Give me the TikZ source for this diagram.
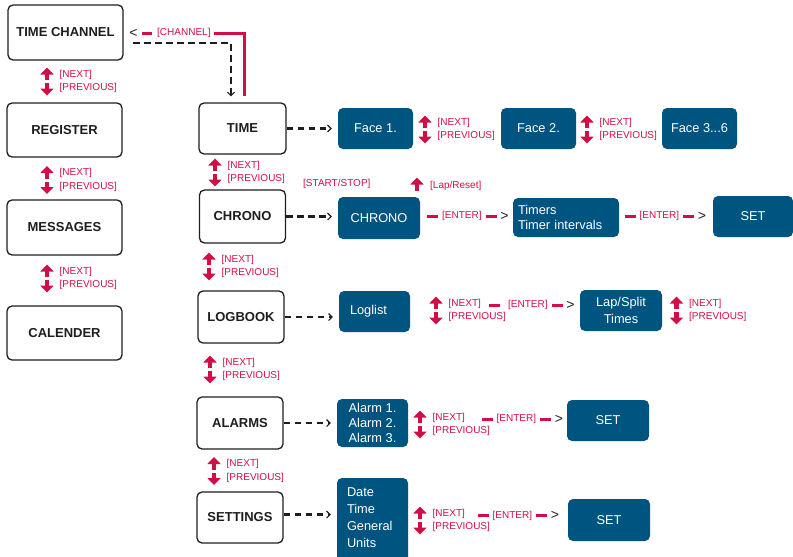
\documentclass[tikz,border=0pt]{standalone}
\usepackage{fontspec}
\setmainfont{Liberation Sans}
\usetikzlibrary{arrows.meta}
\definecolor{navred}{RGB}{210,14,70}
\definecolor{boxblue}{RGB}{0,84,128}
\definecolor{ink}{RGB}{30,30,30}
\newcommand\navpair[3]{%
  \draw[navarrow] (#2,#3-1.5) -- (#2,#3-14);
  \draw[navarrow] (#2,#3+1.5) -- (#2,#3+14);
  \node[lbl] (#1n) at (#2+12.5,#3-7) {[NEXT]};
  \node[lbl] (#1p) at (#2+12.5,#3+6.5) {[PREVIOUS]};}
\newcommand\enterrow[4]{%
  \draw[reddash] (#2,#4) -- ++(11,0);
  \node[lbl] (#1l) at (#3,#4) {[ENTER]};
  \draw[reddash] ([xshift=4pt]#1l.east) -- ++(11,0) coordinate (#1b);
  \node[gt] (#1g) at ([xshift=7.5pt]#1b) {>};}
\begin{document}
\begin{tikzpicture}[x=1pt,y=-1pt,
  wbox/.style={draw=ink, line width=1.3pt, rounded corners=5pt, fill=white, text=ink,
    font=\fontsize{13}{15}\selectfont\bfseries, inner sep=0pt},
  bbox/.style={fill=boxblue, rounded corners=5pt, text=white,
    font=\fontsize{12.8}{15}\selectfont, inner sep=0pt},
  lbl/.style={text=navred, font=\fontsize{10}{12}\selectfont, anchor=west, inner sep=0pt},
  navarrow/.style={draw=navred, line width=4.5pt, -{Triangle[width=13pt,length=7pt]}},
  dasharr/.style={draw=ink, line width=2.8pt, dash pattern=on 6.5pt off 4.5pt,
    -{Straight Barb[line width=1.1pt,length=3.5pt,width=7pt]}, shorten >=6pt},
  reddash/.style={draw=navred, line width=3pt},
  gt/.style={text=ink, font=\fontsize{14}{14}\selectfont, inner sep=0pt}]
\useasboundingbox (0,0) rectangle (793,557);

% left column
\node[wbox,minimum width=115pt,minimum height=55pt] (tc) at (65.5,32.5) {TIME CHANNEL};
\node[wbox,minimum width=115pt,minimum height=54pt] (reg) at (64.5,130) {REGISTER};
\node[wbox,minimum width=115pt,minimum height=55pt] (msg) at (64.5,227.5) {MESSAGES};
\node[wbox,minimum width=115pt,minimum height=54pt] (cal) at (64.5,333) {CALENDER};
\navpair{l1}{47}{81.5}
\navpair{l2}{47}{180}
\navpair{l3}{47}{278.5}

% middle column
\node[wbox,minimum width=87pt,minimum height=51pt] (time) at (242.5,128.5) {TIME};
\node[wbox,minimum width=86pt,minimum height=53pt] (chr) at (242.5,216.5) {CHRONO};
\node[wbox,minimum width=86pt,minimum height=52pt] (log) at (241,317) {LOGBOOK};
\node[wbox,minimum width=86pt,minimum height=52pt] (alm) at (240,423) {ALARMS};
\node[wbox,minimum width=86pt,minimum height=51pt] (set) at (240,517.5) {SETTINGS};
\navpair{m1}{215}{172.5}
\navpair{m2}{209}{266.5}
\navpair{m3}{210}{369.5}
\navpair{m4}{214}{471}

% time channel links
\node[lbl] (chn) at (157,33) {[CHANNEL]};
\coordinate (rc) at (244,33);
\draw[reddash, shorten <=6pt] (rc |- time.north) -- (rc) -- ([xshift=3pt]chn.east);
\draw[reddash] ([xshift=-5pt]chn.west) -- ++(-10,0);
\node[gt] (lt) at (133.5,33) {<};
\coordinate (bs) at (133,43);
\coordinate (bc) at (231,43);
\draw[dasharr] (bs) -- (bc) -- (bc |- time.north);

% blue boxes
\node[bbox,minimum width=75pt,minimum height=41pt] (face1) at (375.5,128.5) {Face 1.};
\node[bbox,minimum width=75pt,minimum height=41pt] (face2) at (538.5,128.5) {Face 2.};
\node[bbox,minimum width=75pt,minimum height=41pt] (face3) at (699.5,128.5) {Face 3...6};
\node[bbox,minimum width=82pt,minimum height=42pt] (chb) at (379,218) {CHRONO};
\node[bbox,minimum width=106pt,minimum height=39pt,text width=96pt,align=left] (tmr) at (566,217.5) {Timers\\Timer intervals};
\node[bbox,minimum width=80pt,minimum height=41pt] (set1) at (753,216.5) {SET};
\node[bbox,minimum width=71pt,minimum height=41pt,text width=49pt,align=left] (logl) at (374.5,311.5) {Loglist};
\node[bbox,minimum width=82pt,minimum height=41pt,align=center,font=\fontsize{12.8}{17}\selectfont] (lap) at (621,310.5) {Lap/Split\\Times};
\node[bbox,minimum width=71pt,minimum height=48pt,align=center] (almb) at (372.5,423) {Alarm 1.\\Alarm 2.\\Alarm 3.};
\node[bbox,minimum width=82pt,minimum height=41pt] (set2) at (608,420.5) {SET};
\node[bbox,minimum width=71pt,minimum height=87pt] (setb) at (372.5,521.5) {};
\node[bbox,fill=none,text width=51pt,align=left,font=\fontsize{12.8}{17}\selectfont] (setbt) at (372.5,517.5) {Date\\Time\\General\\Units};
\node[bbox,minimum width=82pt,minimum height=42pt] (set3) at (609,520) {SET};

% dashed arrows
\draw[dasharr] (time.east) -- (face1.west);
\draw[dasharr] (chr.east) -- (chr.east -| chb.west);
\draw[dasharr] (log.east) -- (log.east -| logl.west);
\draw[dasharr] (alm.east) -- (alm.east -| almb.west);
\draw[dasharr] ([yshift=3pt]set.east) -- ([yshift=3pt]set.east -| setb.west);

% right navigation
\navpair{f1}{425}{129.5}
\navpair{f2}{587}{129.5}
\navpair{g1}{436}{310.5}
\navpair{g2}{676.5}{310.5}
\navpair{a1}{420}{424.5}
\navpair{s1}{420}{520.5}

% chrono extras
\node[lbl] (ss) at (303,184) {[START/STOP]};
\draw[navarrow] (417,190.5) -- (417,177.5);
\node[lbl] (lr) at (430,185.5) {[Lap/Reset]};

% enter rows
\enterrow{e1}{427}{442}{216}
\enterrow{e2}{625}{639.5}{216}
\enterrow{e3}{489}{508}{305}
\enterrow{e4}{482}{496.5}{419}
\enterrow{e5}{478}{492.5}{515.5}
\end{tikzpicture}
\end{document}
